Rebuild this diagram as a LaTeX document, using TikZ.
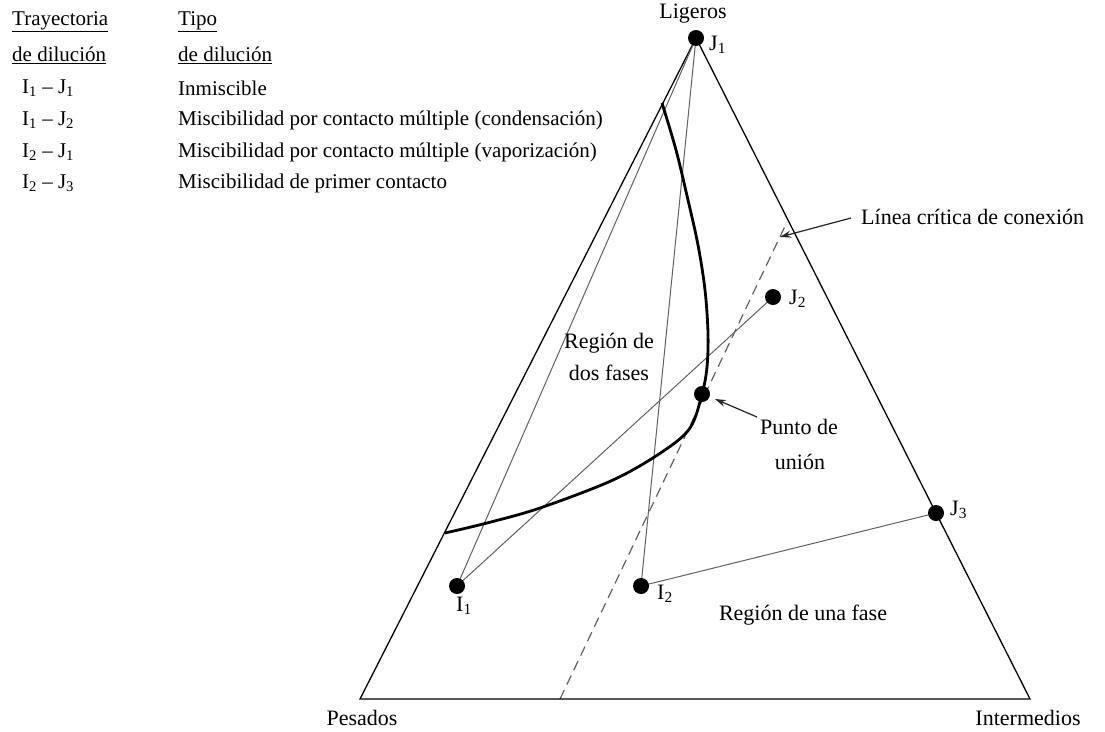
\documentclass[tikz,border=0pt]{standalone}
\usepackage{fontspec}
\setmainfont{Liberation Serif}
\usetikzlibrary{arrows.meta}
\begin{document}
\begin{tikzpicture}[x=1pt,y=-1pt]
\tikzset{
  edge/.style={line width=1.3pt, black},
  traj/.style={line width=1pt, black!62},
  binodal/.style={line width=2.8pt, black, line join=round},
  critline/.style={line width=1.2pt, black!62, dash pattern=on 10pt off 6pt},
  dot/.style={circle, fill=black, inner sep=0pt, minimum size=16pt},
  lbl/.style={font=\fontsize{22}{26}\selectfont, inner sep=0pt},
  legend/.style={font=\fontsize{21}{25}\selectfont, inner sep=0pt, anchor=west},
  pointer/.style={line width=1.2pt, black!85, -{Stealth[length=11pt,width=7pt]}}
}
\useasboundingbox (0,0) rectangle (1105,731);

% vertices of the ternary diagram
\coordinate (P) at (360,699);
\coordinate (M) at (1030,699);
\coordinate (L) at (696,38);

% compositions
\coordinate (cI1) at (457,586);
\coordinate (cI2) at (641,586);
\coordinate (cJ2) at (773,297);
\coordinate (cJ3) at (936,513);
\coordinate (cPl) at (702,394);

% dashed critical tie line
\coordinate (t0) at (560,699);
\coordinate (t1) at (787,222);
\draw[critline] (t0) -- (t1);

% triangle
\draw[edge] (P) -- (M) -- (L) -- cycle;

% dilution paths
\draw[traj] (cI1) -- (L);
\draw[traj] (cI1) -- (cJ2);
\draw[traj] (cI2) -- (L);
\draw[traj] (cI2) -- (cJ3);

% binodal curve
\draw[binodal] plot[smooth, tension=0.55] coordinates {
  (662,103) (676,150) (688,200) (698,245) (705,290) (708,333)
  (707,367) (702,394) (690,428) (662,452) (613,480) (540,508)
  (487,523) (445,533)};

% points
\node[dot] (J1) at (L) {};
\node[dot] (J2) at (cJ2) {};
\node[dot] (J3) at (cJ3) {};
\node[dot] (I1) at (cI1) {};
\node[dot] (I2) at (cI2) {};
\node[dot] (Pl) at (cPl) {};

% point labels
\node[lbl] (nLig) at (693,14) {Ligeros};
\node[lbl, anchor=west] (nJ1) at (709,45) {J\textsubscript{1}};
\node[lbl, anchor=west] (nJ2) at (789,299) {J\textsubscript{2}};
\node[lbl, anchor=west] (nJ3) at (950,510) {J\textsubscript{3}};
\node[lbl] (nI1) at (464,606) {I\textsubscript{1}};
\node[lbl, anchor=west] (nI2) at (657,594) {I\textsubscript{2}};
\node[lbl] (nPes) at (362,718) {Pesados};
\node[lbl] (nInt) at (1028,718) {Intermedios};

% region labels
\node[lbl] (r2a) at (609,343) {Región de};
\node[lbl] (r2b) at (609,373) {dos fases};
\node[lbl] (r1) at (803,615) {Región de una fase};
\node[lbl, anchor=west] (pu1) at (760,427) {Punto de};
\node[lbl] (pu2) at (800,462) {unión};
\node[lbl, anchor=west] (lc) at (861,217) {Línea crítica de conexión};

% pointers
\draw[pointer] (lc.west) ++(-10,1) coordinate (lcs) -- (780,237);
\draw[pointer] (pu1.west) ++(-3,-10) coordinate (pus) -- (715,399);

% legend
\node[legend] (h1) at (12,22) {\underline{Trayectoria}};
\node[legend] (h2) at (12,55) {\underline{de dilución}};
\node[legend] (h3) at (178,22) {\underline{Tipo}};
\node[legend] (h4) at (178,55) {\underline{de dilución}};
\node[legend] (a1) at (22,88) {I\textsubscript{1} – J\textsubscript{1}};
\node[legend] (a2) at (22,120) {I\textsubscript{1} – J\textsubscript{2}};
\node[legend] (a3) at (22,152) {I\textsubscript{2} – J\textsubscript{1}};
\node[legend] (a4) at (22,183) {I\textsubscript{2} – J\textsubscript{3}};
\node[legend] (b1) at (178,88) {Inmiscible};
\node[legend] (b2) at (178,120) {Miscibilidad por contacto múltiple (condensación)};
\node[legend] (b3) at (178,152) {Miscibilidad por contacto múltiple (vaporización)};
\node[legend] (b4) at (178,183) {Miscibilidad de primer contacto};
\end{tikzpicture}
\end{document}
